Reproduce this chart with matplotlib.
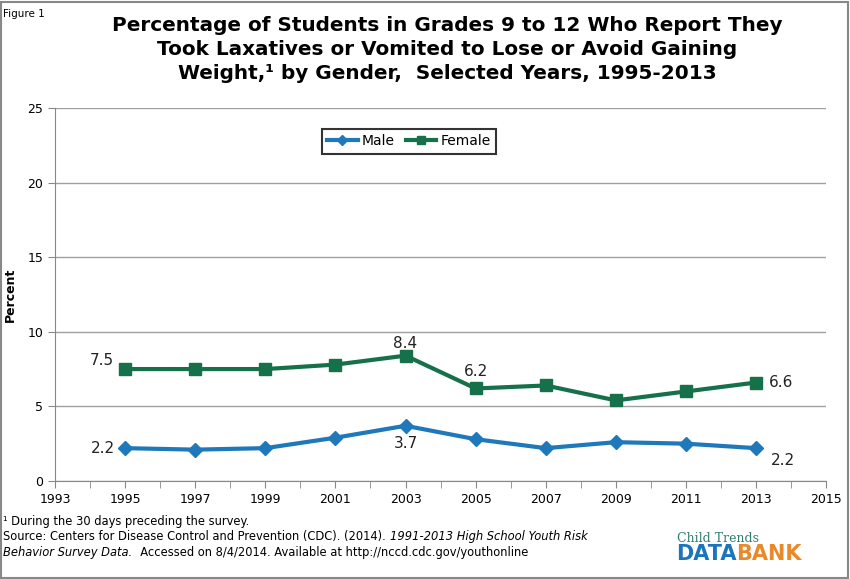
import matplotlib.pyplot as plt
import numpy as np
from matplotlib.patches import Rectangle

years = [1995, 1997, 1999, 2001, 2003, 2005, 2007, 2009, 2011, 2013]
male = [2.2, 2.1, 2.2, 2.9, 3.7, 2.8, 2.2, 2.6, 2.5, 2.2]
female = [7.5, 7.5, 7.5, 7.8, 8.4, 6.2, 6.4, 5.4, 6.0, 6.6]
xtick_labels = [str(y) for y in range(1993, 2016, 2)]
yticks = [0, 5, 10, 15, 20, 25]

blue = '#1f78b9'
green = '#16704a'

fig = plt.figure(figsize=(8.5, 5.79), dpi=100)
ax = fig.add_axes([0.0647, 0.1693, 0.9073, 0.6442])

ax.plot(years, male, color=blue, lw=3, marker='D', ms=7.5, label='Male')
ax.plot(years, female, color=green, lw=3, marker='s', ms=9, label='Female')

ax.set_xlim(1993, 2015)
ax.set_ylim(0, 25)
ax.set_xticks(range(1993, 2016, 2))
ax.set_xticklabels(xtick_labels)
ax.set_xticks(range(1993, 2016), minor=True)
ax.set_yticks(yticks)
ax.tick_params(axis='both', labelsize=9, color='#888888', length=5)
ax.tick_params(axis='x', which='minor', color='#888888', length=5)
ax.grid(axis='y', color='#a0a0a0', lw=1)
ax.set_axisbelow(True)
for s in ['top', 'right']:
    ax.spines[s].set_visible(False)
ax.spines['left'].set_color('#888888')
ax.spines['bottom'].set_color('#888888')
ax.set_ylabel('Percent', fontsize=9, fontweight='bold')
ax.yaxis.set_label_coords(-0.05, 0.5)

# data labels
lab = dict(fontsize=11, color='#222222', textcoords='offset points', va='center')
ax.annotate('7.5', (years[0], female[0]), xytext=(-8, 6), ha='right', **lab)
ax.annotate('8.4', (years[4], female[4]), xytext=(0, 9), ha='center', **lab)
ax.annotate('6.2', (years[5], female[5]), xytext=(0, 12), ha='center', **lab)
ax.annotate('6.6', (years[9], female[9]), xytext=(9, 0), ha='left', **lab)
ax.annotate('2.2', (years[0], male[0]), xytext=(-7, 0), ha='right', **lab)
ax.annotate('3.7', (years[4], male[4]), xytext=(0, -12.5), ha='center', **lab)
ax.annotate('2.2', (years[9], male[9]), xytext=(19, -9), ha='center', **lab)

leg = ax.legend(loc='center', bbox_to_anchor=(0.459, 0.911), ncol=2, fontsize=10,
                frameon=True, fancybox=False, handlelength=2.2, handletextpad=0.3,
                columnspacing=0.8, borderpad=0.4, markerscale=0.7)
leg.get_frame().set_edgecolor('black')
leg.get_frame().set_linewidth(1.5)

fig.text(0.004, 0.985, 'Figure 1', fontsize=7.5, va='top', ha='left')
fig.text(0.526, 0.973, 'Percentage of Students in Grades 9 to 12 Who Report They\n'
         'Took Laxatives or Vomited to Lose or Avoid Gaining\n'
         'Weight,\u00b9 by Gender,  Selected Years, 1995-2013',
         fontsize=14.4, fontweight='bold', ha='center', va='top', linespacing=1.36)

fs = 8.3
fig.text(0.004, 0.1, '\u00b9 During the 30 days preceding the survey.', fontsize=fs, va='center')
txt = fig.text(0.004, 0.073, 'Source: Centers for Disease Control and Prevention (CDC). (2014). ',
               fontsize=fs, va='center')
fig.canvas.draw()
bb = txt.get_window_extent()
fig.text(bb.x1 / 850, 0.073, '1991-2013 High School Youth Risk', fontsize=fs, va='center', style='italic')
txt2 = fig.text(0.004, 0.046, 'Behavior Survey Data.', fontsize=fs, va='center', style='italic')
fig.canvas.draw()
bb2 = txt2.get_window_extent()
fig.text(bb2.x1 / 850, 0.046, '  Accessed on 8/4/2014. Available at http://nccd.cdc.gov/youthonline',
         fontsize=fs, va='center')

# logo
fig.text(0.797, 0.07, 'Child Trends', fontsize=9, family='DejaVu Serif', color='#2e7d6e', va='center')
d = fig.text(0.795, 0.043, 'DATA', fontsize=15, fontweight='bold', color='#1b75bb', va='center')
fig.canvas.draw()
bb3 = d.get_window_extent()
fig.text(bb3.x1 / 850, 0.043, 'BANK', fontsize=15, fontweight='bold', color='#e8892c', va='center')

fig.patches.append(Rectangle((0.001, 0.002), 0.997, 0.995, transform=fig.transFigure,
                             fill=False, edgecolor='#888888', lw=1.5))

fig.savefig('out.png', dpi=100)
